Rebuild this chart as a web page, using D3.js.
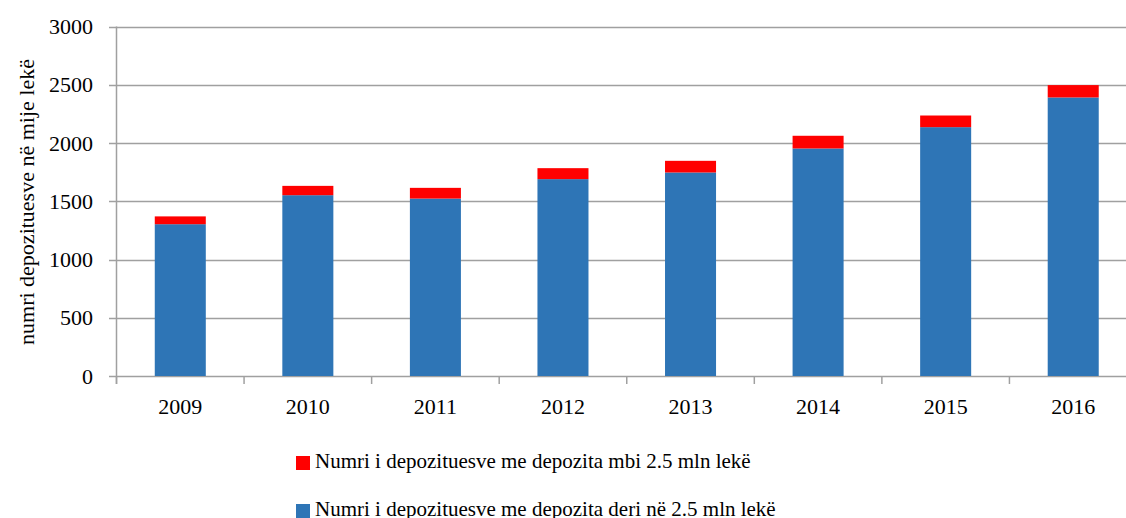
<!DOCTYPE html>
<html>
<head>
<meta charset="utf-8">
<script src="https://cdn.jsdelivr.net/npm/d3@7"></script>
<style>
  body { margin: 0; background: #fff; }
  text { font-family: "Liberation Serif", "DejaVu Serif", serif; fill: #000; }
</style>
</head>
<body>
<div id="chart"></div>
<script>
var width = 1126;
var height = 518;

var years = ["2009", "2010", "2011", "2012", "2013", "2014", "2015", "2016"];
// depozitues deri ne 2.5 mln leke (mije)
var deri = [1303, 1552, 1523, 1690, 1747, 1953, 2136, 2391];
// depozitues mbi 2.5 mln leke (mije)
var mbi = [67, 80, 92, 94, 100, 109, 100, 106];
var yTicks = [0, 500, 1000, 1500, 2000, 2500, 3000];

var seriesNames = ["deri", "mbi"];
var colors = { deri: "#2E75B6", mbi: "#FF0000" };
var legendLabels = [
  ["mbi", "Numri i depozituesve me depozita mbi 2.5 mln lekë"],
  ["deri", "Numri i depozituesve me depozita deri në 2.5 mln lekë"]
];

var rows = years.map(function(y, i) {
  return { year: y, deri: deri[i], mbi: mbi[i] };
});

var svg = d3.select("#chart")
  .append("svg")
  .attr("width", width)
  .attr("height", height);

var x = d3.scaleBand()
  .domain(years)
  .range([116.5, 1137])
  .paddingInner(0.6)
  .paddingOuter(0.3);

var y = d3.scaleLinear()
  .domain([0, 3000])
  .range([376, 26.5]);

// gridlines
svg.append("g")
  .selectAll("line")
  .data(yTicks)
  .join("line")
  .attr("x1", 109)
  .attr("x2", width)
  .attr("y1", function(d) { return Math.round(y(d)) + 0.5; })
  .attr("y2", function(d) { return Math.round(y(d)) + 0.5; })
  .style("stroke", "#a0a0a0")
  .style("stroke-width", 1.5);

// y labels
svg.append("g")
  .selectAll("text")
  .data(yTicks)
  .join("text")
  .attr("x", 93)
  .attr("y", function(d) { return y(d); })
  .attr("dy", "0.35em")
  .attr("text-anchor", "end")
  .style("font-size", "22px")
  .text(function(d) { return d; });

// bars
var stacked = d3.stack().keys(seriesNames)(rows);

svg.append("g")
  .selectAll("g")
  .data(stacked)
  .join("g")
  .style("fill", function(s) { return colors[s.key]; })
  .selectAll("rect")
  .data(function(s) { return s; })
  .join("rect")
  .attr("x", function(d) { return x(d.data.year); })
  .attr("y", function(d) { return y(d[1]); })
  .attr("width", x.bandwidth())
  .attr("height", function(d) { return y(d[0]) - y(d[1]); });

// axes lines
svg.append("line")
  .attr("x1", 116.5).attr("x2", 116.5)
  .attr("y1", y(3000)).attr("y2", 384)
  .style("stroke", "#a0a0a0")
  .style("stroke-width", 1.5);

var step = x.step();
var boundaries = d3.range(years.length + 1).map(function(i) { return 116.5 + i * step; });
svg.append("g")
  .selectAll("line")
  .data(boundaries)
  .join("line")
  .attr("x1", function(d) { return d; })
  .attr("x2", function(d) { return d; })
  .attr("y1", 376)
  .attr("y2", 384)
  .style("stroke", "#a0a0a0")
  .style("stroke-width", 1.5);

// x labels
svg.append("g")
  .selectAll("text")
  .data(years)
  .join("text")
  .attr("x", function(d) { return x(d) + x.bandwidth() / 2; })
  .attr("y", 414)
  .attr("text-anchor", "middle")
  .style("font-size", "22px")
  .text(function(d) { return d; });

// y title
svg.append("text")
  .attr("transform", "translate(34,202) rotate(-90)")
  .attr("text-anchor", "middle")
  .style("font-size", "22px")
  .text("numri depozituesve në mije lekë");

// legend
var leg = svg.append("g")
  .selectAll("g")
  .data(legendLabels)
  .join("g")
  .attr("transform", function(d, i) { return "translate(296," + (456 + i * 48) + ")"; });

leg.append("rect")
  .attr("width", 14)
  .attr("height", 14)
  .style("fill", function(d) { return colors[d[0]]; });

leg.append("text")
  .attr("x", 19)
  .attr("y", 12)
  .style("font-size", "21px")
  .text(function(d) { return d[1]; });
</script>
</body>
</html>
